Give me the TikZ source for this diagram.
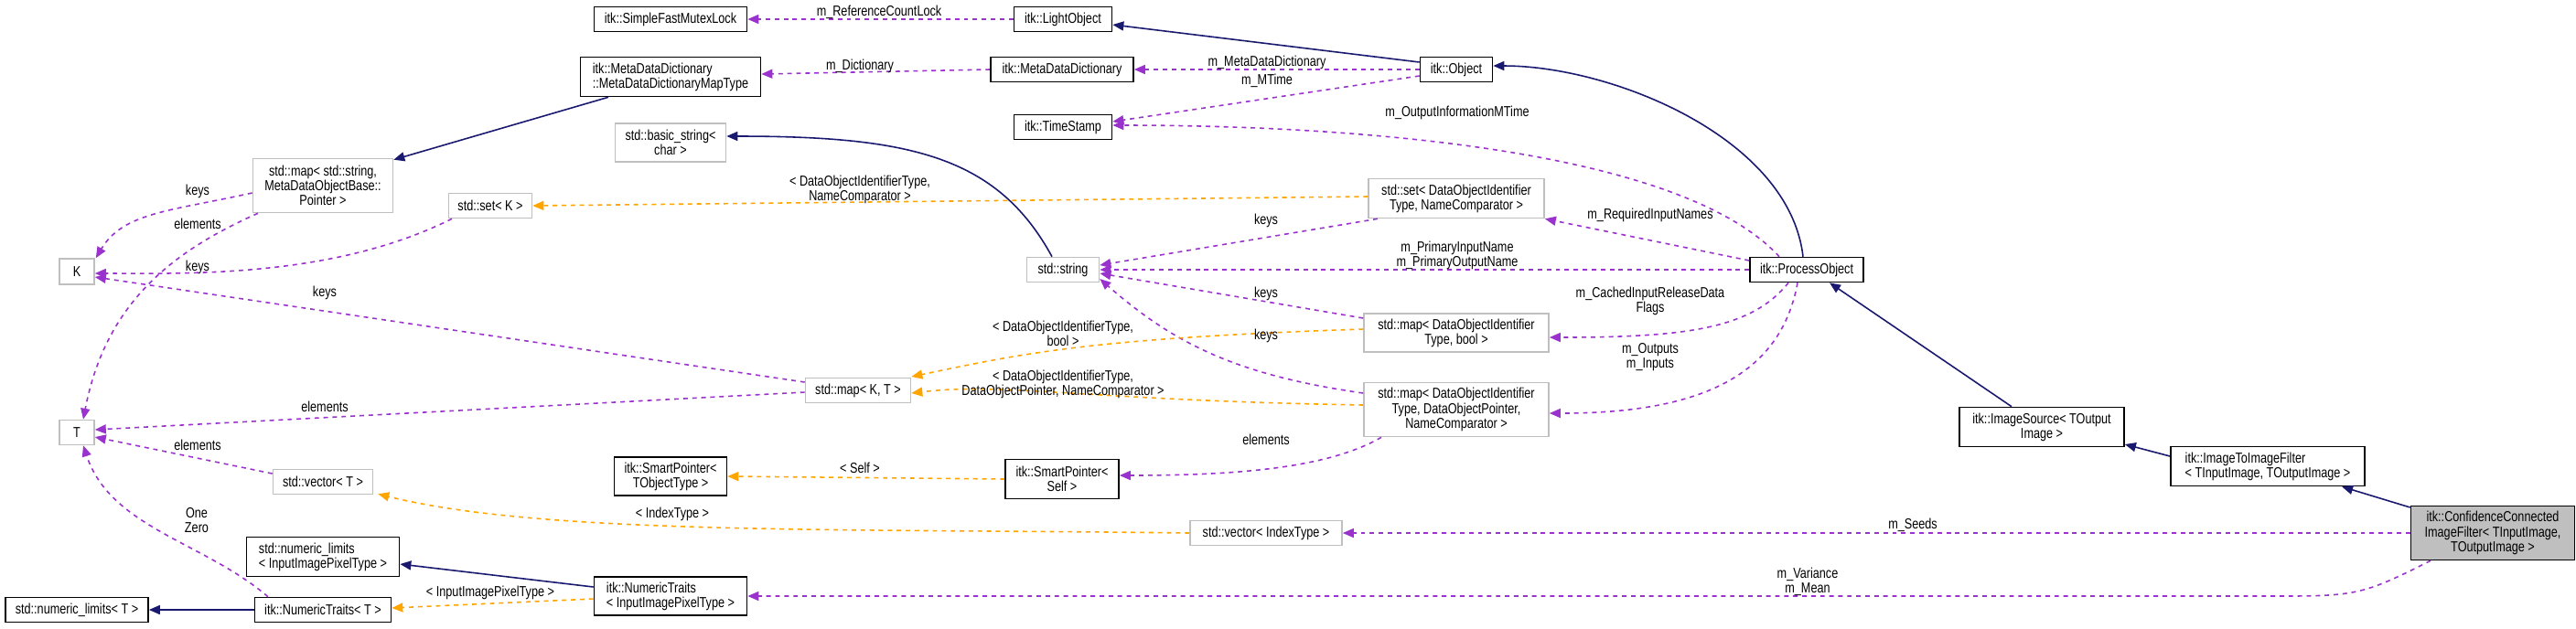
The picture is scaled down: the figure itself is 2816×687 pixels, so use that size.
\documentclass[tikz,border=0pt]{standalone}
\usepackage{fontspec}
\setmainfont{Liberation Sans}[FakeStretch=0.8]
\usetikzlibrary{arrows.meta}
\definecolor{navyc}{HTML}{191970}
\definecolor{purp}{HTML}{9A32CD}
\definecolor{orng}{HTML}{FFA500}
\definecolor{gbord}{HTML}{BFBFBF}
\begin{document}
\begin{tikzpicture}[x=0.01cm,y=-0.01cm,
  every node/.style={font=\fontsize{4.5}{4.6}\selectfont, inner sep=0.5pt},
  box/.style={rectangle, fill=white, line width=0.45pt, align=center},
  doc/.style={box, draw=black},
  und/.style={box, draw=gbord},
  lbl/.style={align=center, inner sep=0},
  tip/.style={-{Triangle[length=1.2mm,width=1mm]}},
  inh/.style={tip, draw=navyc, line width=0.45pt},
  use/.style={tip, draw=purp, line width=0.45pt, dash pattern=on 1.4pt off 1.4pt},
  tmpl/.style={tip, draw=orng, line width=0.45pt, dash pattern=on 1.4pt off 1.4pt},
  bg/.style={fill=white}]
\useasboundingbox[fill=white] (0,0) rectangle (2816,687);
% nodes
\node[doc, minimum width=1.67cm, minimum height=0.27cm] (sfml) at (733,21) {itk::SimpleFastMutexLock};
\node[doc, minimum width=1.97cm, minimum height=0.43cm, align=left] (mddmt) at (733,84) {itk::MetaDataDictionary\\::MetaDataDictionaryMapType};
\node[und, minimum width=1.21cm, minimum height=0.42cm] (bstr) at (733,156) {std::basic\_string<\\char >};
\node[und, minimum width=1.53cm, minimum height=0.59cm] (mapstr) at (353,203) {std::map< std::string,\\MetaDataObjectBase::\\Pointer >};
\node[und, minimum width=0.91cm, minimum height=0.27cm] (setk) at (536,225) {std::set< K >};
\node[und, minimum width=0.38cm, minimum height=0.28cm] (K) at (84,297) {K};
\node[und, minimum width=0.38cm, minimum height=0.27cm] (T) at (84,473) {T};
\node[und, minimum width=1.15cm, minimum height=0.27cm] (mapkt) at (938,427) {std::map< K, T >};
\node[und, minimum width=1.09cm, minimum height=0.27cm] (vect) at (353,527) {std::vector< T >};
\node[doc, minimum width=1.23cm, minimum height=0.42cm] (spt) at (733,521) {itk::SmartPointer<\\TObjectType >};
\node[doc, minimum width=1.67cm, minimum height=0.43cm, align=left] (nlip) at (353,609) {std::numeric\_limits\\< InputImagePixelType >};
\node[doc, minimum width=1.67cm, minimum height=0.42cm, align=left] (ntip) at (733,652) {itk::NumericTraits\\< InputImagePixelType >};
\node[doc, minimum width=1.56cm, minimum height=0.27cm] (nlt) at (84,667) {std::numeric\_limits< T >};
\node[doc, minimum width=1.49cm, minimum height=0.27cm] (ntt) at (353,667) {itk::NumericTraits< T >};
\node[doc, minimum width=1.07cm, minimum height=0.27cm] (light) at (1162,21) {itk::LightObject};
\node[doc, minimum width=1.56cm, minimum height=0.27cm] (mdd) at (1161,76) {itk::MetaDataDictionary};
\node[doc, minimum width=0.79cm, minimum height=0.27cm] (obj) at (1592,76) {itk::Object};
\node[doc, minimum width=1.07cm, minimum height=0.27cm] (ts) at (1162,139) {itk::TimeStamp};
\node[und, minimum width=1.92cm, minimum height=0.43cm] (setdoi) at (1592,217) {std::set< DataObjectIdentifier\\Type, NameComparator >};
\node[und, minimum width=0.79cm, minimum height=0.27cm] (str) at (1162,295) {std::string};
\node[und, minimum width=2.02cm, minimum height=0.42cm] (mapbool) at (1592,364) {std::map< DataObjectIdentifier\\Type, bool >};
\node[und, minimum width=2.02cm, minimum height=0.59cm] (mapdop) at (1592,448) {std::map< DataObjectIdentifier\\Type, DataObjectPointer,\\NameComparator >};
\node[doc, minimum width=1.24cm, minimum height=0.43cm] (sps) at (1161,524) {itk::SmartPointer<\\Self >};
\node[und, minimum width=1.66cm, minimum height=0.27cm] (vidx) at (1384,583) {std::vector< IndexType >};
\node[doc, minimum width=1.24cm, minimum height=0.27cm] (po) at (1975,295) {itk::ProcessObject};
\node[doc, minimum width=1.80cm, minimum height=0.43cm] (isrc) at (2232,467) {itk::ImageSource< TOutput\\Image >};
\node[doc, minimum width=2.12cm, minimum height=0.43cm, align=left] (i2i) at (2479,510) {itk::ImageToImageFilter\\< TInputImage, TOutputImage >};
\node[doc, fill=gbord, minimum width=1.79cm, minimum height=0.59cm] (cc) at (2725,583) {itk::ConfidenceConnected\\ImageFilter< TInputImage,\\TOutputImage >};
\coordinate (mm) at (2498,652);
% inheritance
\draw[inh] ([yshift=.08cm]obj.west) -- ([yshift=-.06cm]light.east);
\draw[inh] ([xshift=-.04cm]po.north) .. controls +(-15,-130) and +(130,0) .. ([yshift=.04cm]obj.east);
\draw[inh] ([xshift=-.12cm]str.north) .. controls +(-60,-110) and +(200,0) .. ([yshift=.07cm]bstr.east);
\draw[inh] ([xshift=-.68cm]mddmt.south) -- ([yshift=-.02cm]mapstr.north east);
\draw[inh] ([xshift=-.33cm]isrc.north) -- ([xshift=.25cm]po.south);
\draw[inh] ([yshift=.11cm]i2i.west) -- ([yshift=-.19cm]isrc.east);
\draw[inh] ([yshift=.28cm]cc.west) -- ([xshift=.81cm]i2i.south);
\draw[inh] ([yshift=.1cm]ntip.west) -- ([yshift=-.08cm]nlip.east);
\draw[inh] (ntt.west) -- (nlt.east);
% usage
\draw[use] (light.west) -- (sfml.east);
\draw[use] (mdd.west) -- ([yshift=.03cm]mddmt.east);
\draw[use] (obj.west) -- (mdd.east);
\draw[use] ([yshift=-.07cm]obj.west) -- ([yshift=.06cm]ts.east);
\draw[use] ([xshift=-.3cm]po.north) .. controls +(-110,-120) and +(250,0) .. ([yshift=.02cm]ts.east);
\draw[use] ([yshift=.1cm]po.west) -- (setdoi.south east);
\draw[use] (po.west) -- (str.east);
\draw[use] ([xshift=-.2cm]po.south) .. controls +(-40,50) and +(150,0) .. ([yshift=-.05cm]mapbool.east);
\draw[use] ([xshift=-.1cm]po.south) .. controls +(-20,110) and +(150,0) .. ([yshift=-.04cm]mapdop.east);
\draw[use] ([xshift=-.86cm]setdoi.south) -- ([yshift=.05cm]str.east);
\draw[use] ([yshift=.16cm]mapbool.west) -- ([yshift=-.04cm]str.east);
\draw[use] ([yshift=.18cm]mapdop.west) .. controls +(-140,-20) and +(80,70) .. ([yshift=-.1cm]str.east);
\draw[use] ([xshift=-.82cm]mapdop.south) .. controls +(-60,35) and +(120,0) .. ([yshift=.04cm]sps.east);
\draw[use] (cc.west) -- (vidx.east);
\draw[use] ([xshift=-.68cm]cc.south) .. controls +(-70,35) and +(80,0) .. (mm) -- (ntip.east);
\draw[use] ([yshift=-.08cm]mapstr.west) .. controls +(-90,20) and +(30,-50) .. ([xshift=.01cm]K.north east);
\draw[use] ([xshift=-.71cm]mapstr.south) .. controls +(-90,40) and +(25,-130) .. ([xshift=.07cm]T.north);
\draw[use] ([xshift=-.42cm]setk.south) .. controls +(-130,65) and +(100,0) .. ([yshift=-.02cm]K.east);
\draw[use] ([yshift=.09cm]mapkt.west) -- ([yshift=-.06cm]K.east);
\draw[use] ([yshift=-.02cm]mapkt.west) -- ([yshift=.03cm]T.east);
\draw[use] ([yshift=.09cm]vect.west) -- ([yshift=-.05cm]T.east);
\draw[use] ([xshift=-.6cm]ntt.north) .. controls +(-70,-60) and +(30,90) .. ([xshift=.07cm]T.south);
% template
\draw[tmpl] ([yshift=.02cm]setdoi.west) -- (setk.east);
\draw[tmpl] ([yshift=.04cm]mapbool.west) .. controls +(-300,10) and +(120,-25) .. ([yshift=.15cm]mapkt.east);
\draw[tmpl] ([yshift=.05cm]mapdop.west) .. controls +(-300,-5) and +(100,-12) .. ([yshift=-.03cm]mapkt.east);
\draw[tmpl] (sps.west) -- (spt.east);
\draw[tmpl] (vidx.west) .. controls +(-380,-5) and +(180,45) .. ([xshift=.05cm,yshift=.01cm]vect.south east);
\draw[tmpl] ([yshift=-.03cm]ntip.west) -- ([yshift=.02cm]ntt.east);
% labels
\node[lbl] (l1) at (961,13) {m\_ReferenceCountLock};
\node[lbl] (l2) at (940,72) {m\_Dictionary};
\node[lbl] (l3) at (1385,68) {m\_MetaDataDictionary};
\node[lbl] (l4) at (1385,88) {m\_MTime};
\node[lbl] (l5) at (1593,123) {m\_OutputInformationMTime};
\node[lbl] (l6) at (940,207) {< DataObjectIdentifierType,\\NameComparator >};
\node[lbl] (l7) at (1384,241) {keys};
\node[lbl] (l8) at (1804,235) {m\_RequiredInputNames};
\node[lbl] (l9) at (1593,279) {m\_PrimaryInputName\\m\_PrimaryOutputName};
\node[lbl] (l10) at (1384,321) {keys};
\node[lbl] (l11) at (1804,329) {m\_CachedInputReleaseData\\Flags};
\node[lbl] (l12) at (1162,365) {< DataObjectIdentifierType,\\bool >};
\node[lbl] (l13) at (1384,367) {keys};
\node[lbl] (l14) at (1162,420) {< DataObjectIdentifierType,\\DataObjectPointer, NameComparator >};
\node[lbl] (l15) at (1804,391) {m\_Outputs\\m\_Inputs};
\node[lbl] (l16) at (1384,481) {elements};
\node[lbl] (l17) at (940,512) {< Self >};
\node[lbl] (l18) at (735,562) {< IndexType >};
\node[lbl] (l19) at (2091,574) {m\_Seeds};
\node[lbl] (l20) at (1976,636) {m\_Variance\\m\_Mean};
\node[lbl] (l21) at (536,648) {< InputImagePixelType >};
\node[lbl] (l22) at (215,569) {One\\Zero};
\node[lbl] (l23) at (216,487) {elements};
\node[lbl] (l24) at (355,445) {elements};
\node[lbl] (l25) at (355,320) {keys};
\node[lbl] (l26) at (216,292) {keys};
\node[lbl] (l27) at (216,209) {keys};
\node[lbl] (l28) at (216,245) {elements};
\end{tikzpicture}
\end{document}
